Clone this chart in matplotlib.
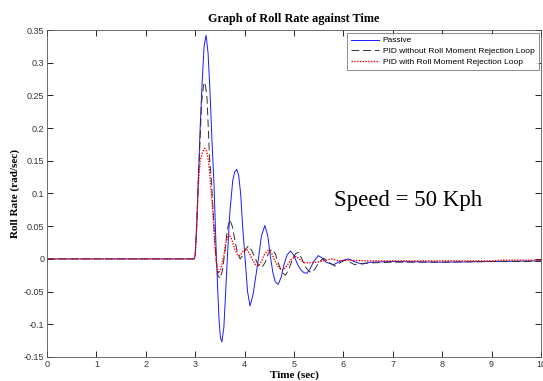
import matplotlib
matplotlib.use("Agg")
import matplotlib.pyplot as plt

# ---- data ----
t_passive = [0, 2.98, 3.00, 3.03, 3.06, 3.10, 3.14, 3.18, 3.22, 3.26, 3.30, 3.34, 3.38, 3.43,
             3.48, 3.51, 3.54, 3.58, 3.62, 3.65, 3.70, 3.76, 3.80, 3.84, 3.88, 3.92, 3.96,
             4.01, 4.06, 4.11, 4.17, 4.23, 4.28, 4.34, 4.41, 4.47, 4.52, 4.57, 4.62, 4.68,
             4.74, 4.80, 4.86, 4.93, 5.00, 5.07, 5.14, 5.20, 5.26, 5.32, 5.40, 5.49, 5.56,
             5.65, 5.80, 5.95, 6.10, 6.25, 6.38, 6.55, 7.0, 8.0, 9.0, 10.0]
v_passive = [0, 0, 0.005, 0.05, 0.115, 0.20, 0.27, 0.325, 0.342, 0.315, 0.255, 0.18, 0.115, 0.0,
             -0.09, -0.12, -0.127, -0.105, -0.045, 0.0, 0.07, 0.12, 0.133, 0.137, 0.128, 0.10, 0.05,
             0.0, -0.05, -0.072, -0.055, -0.025, 0.0, 0.035, 0.051, 0.035, 0.005, -0.02, -0.035, -0.039,
             -0.028, -0.008, 0.006, 0.012, 0.005, -0.008, -0.017, -0.021, -0.022, -0.016, -0.004, 0.005, 0.002,
             -0.005, -0.009, -0.003, 0.0, -0.005, -0.008, -0.005, -0.004, -0.005, -0.004, -0.003]

t_pid = [0, 2.98, 3.00, 3.03, 3.06, 3.10, 3.13, 3.17, 3.20, 3.24, 3.29, 3.33, 3.38, 3.42, 3.46,
         3.50, 3.55, 3.60, 3.65, 3.70, 3.75, 3.80, 3.86, 3.91, 3.96, 4.02, 4.08, 4.15, 4.22, 4.28,
         4.35, 4.42, 4.48, 4.55, 4.62, 4.70, 4.76, 4.83, 4.90, 4.97, 5.03, 5.09, 5.16, 5.23, 5.30,
         5.36, 5.43, 5.50, 5.60, 5.70, 5.83, 5.93, 6.03, 6.13, 6.23, 6.35, 6.6, 7.0, 8.0, 9.0, 10.0]
v_pid = [0, 0, 0.005, 0.05, 0.11, 0.185, 0.24, 0.266, 0.270, 0.245, 0.155, 0.117, 0.05, 0.0, -0.025,
         -0.030, -0.018, 0.01, 0.045, 0.060, 0.05, 0.03, 0.008, 0.0, 0.005, 0.015, 0.020, 0.012, 0.0, -0.010,
         -0.013, -0.005, 0.008, 0.015, 0.008, -0.01, -0.021, -0.025, -0.015, 0.0, 0.008, 0.010, 0.0, -0.012, -0.019,
         -0.021, -0.015, -0.005, 0.001, -0.005, -0.011, -0.006, -0.002, -0.005, -0.009, -0.007, -0.006, -0.005, -0.005, -0.004, -0.004]

t_pid_rm = [0, 2.98, 3.00, 3.03, 3.06, 3.10, 3.15, 3.19, 3.23, 3.27, 3.31, 3.35, 3.40, 3.44, 3.47,
            3.52, 3.58, 3.63, 3.68, 3.74, 3.80, 3.86, 3.91, 3.97, 4.04, 4.10, 4.17, 4.23, 4.28, 4.34,
            4.41, 4.48, 4.55, 4.62, 4.70, 4.78, 4.86, 4.95, 5.04, 5.12, 5.22, 5.32, 5.45, 5.60, 5.76,
            5.90, 6.1, 6.5, 7.0, 8.0, 9.0, 9.2, 10.0]
v_pid_rm = [0, 0, 0.005, 0.05, 0.11, 0.15, 0.163, 0.169, 0.165, 0.15, 0.117, 0.08, 0.02, -0.012, -0.022,
            -0.015, 0.005, 0.028, 0.038, 0.03, 0.015, 0.006, 0.005, 0.012, 0.015, 0.008, -0.003, -0.010, -0.011, -0.004,
            0.008, 0.013, 0.008, -0.004, -0.014, -0.017, -0.010, 0.0, 0.004, -0.001, -0.006, -0.006, -0.005, -0.003, 0.0,
            -0.003, -0.002, -0.003, -0.003, -0.003, -0.003, -0.002, -0.002]

series_labels = ["Passive", "PID without Roll Moment Rejection Loop", "PID with Roll Moment Rejection Loop"]
x_ticks = [0, 1, 2, 3, 4, 5, 6, 7, 8, 9, 10]
y_ticks = [-0.15, -0.1, -0.05, 0, 0.05, 0.1, 0.15, 0.2, 0.25, 0.3, 0.35]
y_tick_labels = ["-0.15", "-0.1", "-0.05", "0", "0.05", "0.1", "0.15", "0.2", "0.25", "0.3", "0.35"]

# ---- figure ----
fig = plt.figure(figsize=(5.43, 3.81), dpi=100)
ax = fig.add_axes([47/543, 1 - 357/381, (541 - 47)/543, (357 - 30)/381])

ax.plot(t_passive, v_passive, color="#1a1aff", lw=0.7, label=series_labels[0])
ax.plot(t_pid, v_pid, color="#303030", lw=0.7, dashes=(8, 4), label=series_labels[1])
ax.plot(t_pid_rm, v_pid_rm, color="red", lw=1.0, linestyle=(0, (1, 1)), label=series_labels[2])

ax.set_xlim(0, 10)
ax.set_ylim(-0.15, 0.35)
ax.set_xticks(x_ticks)
ax.set_xticklabels([str(v) for v in x_ticks])
ax.set_yticks(y_ticks)
ax.set_yticklabels(y_tick_labels)
ax.tick_params(direction="in", length=4, width=0.6, top=True, right=True,
               labelsize=6.5, labelcolor="#333333", pad=2)
for lab in ax.get_xticklabels() + ax.get_yticklabels():
    lab.set_fontfamily("Liberation Sans")
for sp in ax.spines.values():
    sp.set_linewidth(0.6)
    sp.set_color("#555555")

serif = "Liberation Serif"
ax.set_title("Graph of Roll Rate against Time", fontfamily=serif, fontweight="bold",
             fontsize=8.8, pad=6)
ax.set_xlabel("Time (sec)", fontfamily=serif, fontweight="bold", fontsize=8, labelpad=1)
ax.set_ylabel("Roll Rate (rad/sec)", fontfamily=serif, fontweight="bold", fontsize=8, labelpad=3)

ax.text(5.8, 0.089, "Speed = 50 Kph", fontfamily=serif, fontsize=16.5, ha="left", va="center")

leg = ax.legend(loc="upper right", prop={"family": "Liberation Sans", "size": 6.0},
                frameon=True, fancybox=False, borderpad=0.5, handlelength=3.4,
                labelspacing=0.35, handletextpad=0.4, borderaxespad=0.3)
leg.get_frame().set_edgecolor("#555555")
leg.get_frame().set_linewidth(0.6)

fig.savefig("out.png", dpi=100)
